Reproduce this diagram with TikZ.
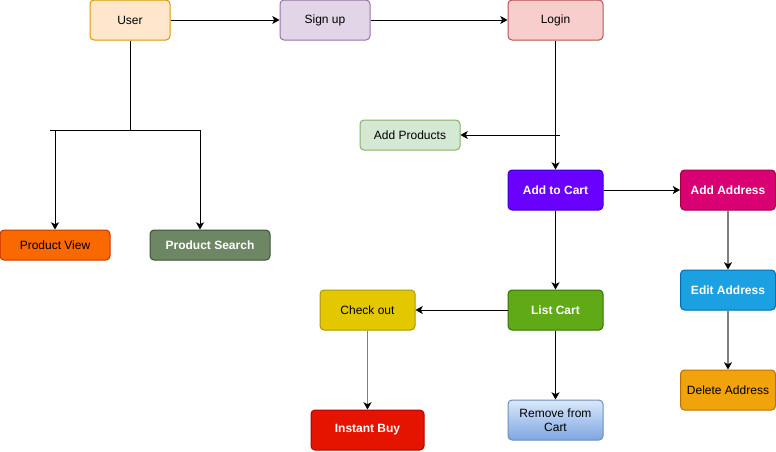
\documentclass[tikz,border=0pt]{standalone}
\usepackage{fontspec}
\setmainfont{Liberation Sans}
\usetikzlibrary{arrows.meta}

\newlength{\du}
\setlength{\du}{0.75pt}

\definecolor{userfill}{HTML}{FFE6CC}\definecolor{userline}{HTML}{D79B00}
\definecolor{signfill}{HTML}{E1D5E7}\definecolor{signline}{HTML}{9673A6}
\definecolor{loginfill}{HTML}{F8CECC}\definecolor{loginline}{HTML}{B85450}
\definecolor{prodfill}{HTML}{D5E8D4}\definecolor{prodline}{HTML}{82B366}
\definecolor{cartfill}{HTML}{6A00FF}\definecolor{cartline}{HTML}{3700CC}
\definecolor{addrfill}{HTML}{D80073}\definecolor{addrline}{HTML}{A50040}
\definecolor{editfill}{HTML}{1BA1E2}\definecolor{editline}{HTML}{006EAF}
\definecolor{delfill}{HTML}{F0A30A}\definecolor{delline}{HTML}{BD7000}
\definecolor{listfill}{HTML}{60A917}\definecolor{listline}{HTML}{2D7600}
\definecolor{checkfill}{HTML}{E3C800}\definecolor{checkline}{HTML}{B09500}
\definecolor{removetop}{HTML}{DAE8FC}\definecolor{removebot}{HTML}{7EA6E0}\definecolor{removeline}{HTML}{6C8EBF}
\definecolor{buyfill}{HTML}{E51400}\definecolor{buyline}{HTML}{B20000}
\definecolor{viewfill}{HTML}{FA6800}\definecolor{viewline}{HTML}{C73500}
\definecolor{searchfill}{HTML}{6D8764}\definecolor{searchline}{HTML}{3A5431}
\definecolor{linkgray}{HTML}{7F7F7F}

\tikzset{
  flowbox/.style={draw, rounded corners=4\du, line width=1\du, inner sep=1\du,
    align=center, font=\fontsize{9}{10.5}\selectfont, text=black},
  boldbox/.style={flowbox, text=white, font=\fontsize{9}{10.5}\selectfont\bfseries},
  link/.style={line width=1\du, -{Stealth[length=5.4pt,width=6pt,inset=1.4pt]}},
  greylink/.style={line width=1.3\du, draw=linkgray, -{Stealth[length=5.4pt,width=6pt,inset=1.4pt,black]}}
}

\begin{document}
\begin{tikzpicture}
\pgftransformyscale{-1.000000}
\useasboundingbox (0\du,0\du) rectangle (776\du,451\du);
% boxes
\node[flowbox, fill=userfill, draw=userline, minimum width=80\du, minimum height=40\du] (user) at (130\du,20\du) {User};
\node[flowbox, fill=signfill, draw=signline, minimum width=90\du, minimum height=40\du] (signup) at (325\du,20\du) {Sign up};
\node[flowbox, fill=loginfill, draw=loginline, minimum width=95\du, minimum height=40\du] (login) at (555.5\du,20\du) {Login};
\node[flowbox, fill=prodfill, draw=prodline, minimum width=100\du, minimum height=30\du] (addprod) at (410\du,135\du) {Add Products};
\node[boldbox, fill=cartfill, draw=cartline, minimum width=95\du, minimum height=40\du] (addcart) at (555.5\du,190\du) {Add to Cart};
\node[boldbox, fill=addrfill, draw=addrline, minimum width=95\du, minimum height=40\du] (addaddr) at (728\du,190\du) {Add Address};
\node[boldbox, fill=editfill, draw=editline, minimum width=95\du, minimum height=40\du] (editaddr) at (728\du,290\du) {Edit Address};
\node[flowbox, fill=delfill, draw=delline, minimum width=95\du, minimum height=40\du] (deladdr) at (728\du,390\du) {Delete Address};
\node[boldbox, fill=listfill, draw=listline, minimum width=95\du, minimum height=40\du] (listcart) at (555.5\du,310\du) {List Cart};
\node[flowbox, fill=checkfill, draw=checkline, minimum width=95\du, minimum height=40\du] (checkout) at (367.5\du,310\du) {Check out};
\node[flowbox, top color=removetop, bottom color=removebot, draw=removeline, minimum width=95\du, minimum height=40\du] (remove) at (555.5\du,420\du) {Remove from\\Cart};
\node[boldbox, fill=buyfill, draw=buyline, minimum width=113\du, minimum height=40\du] (instant) at (367.5\du,430\du) {Instant Buy};
\node[flowbox, fill=viewfill, draw=viewline, minimum width=110\du, minimum height=30\du] (pview) at (55\du,245\du) {Product View};
\node[boldbox, fill=searchfill, draw=searchline, minimum width=120\du, minimum height=30\du] (psearch) at (210\du,245\du) {Product Search};
% branch points
\coordinate (fork) at (130\du,130\du);
\coordinate (forkl) at (50\du,130\du);
\coordinate (forkv) at (55\du,130\du);
\coordinate (forkr) at (200\du,130\du);
\coordinate (prodtap) at (560\du,135\du);
% connectors
\draw[link] (user) -- (signup);
\draw[link] (signup) -- (login);
\draw[line width=1\du] (user) -- (fork);
\draw[line width=1\du] (forkl) -- (forkr);
\draw[link] (forkv) -- (pview);
\draw[link] (forkr) -- (forkr |- psearch.north);
\draw[link] (login) -- (addcart);
\draw[link] (prodtap) -- (addprod);
\draw[link] (addcart) -- (addaddr);
\draw[greylink] (addaddr) -- (editaddr);
\draw[greylink] (editaddr) -- (deladdr);
\draw[link] (addcart) -- (listcart);
\draw[link] (listcart) -- (checkout);
\draw[link] (listcart) -- (remove);
\draw[greylink] (checkout) -- (instant);
\end{tikzpicture}
\end{document}
